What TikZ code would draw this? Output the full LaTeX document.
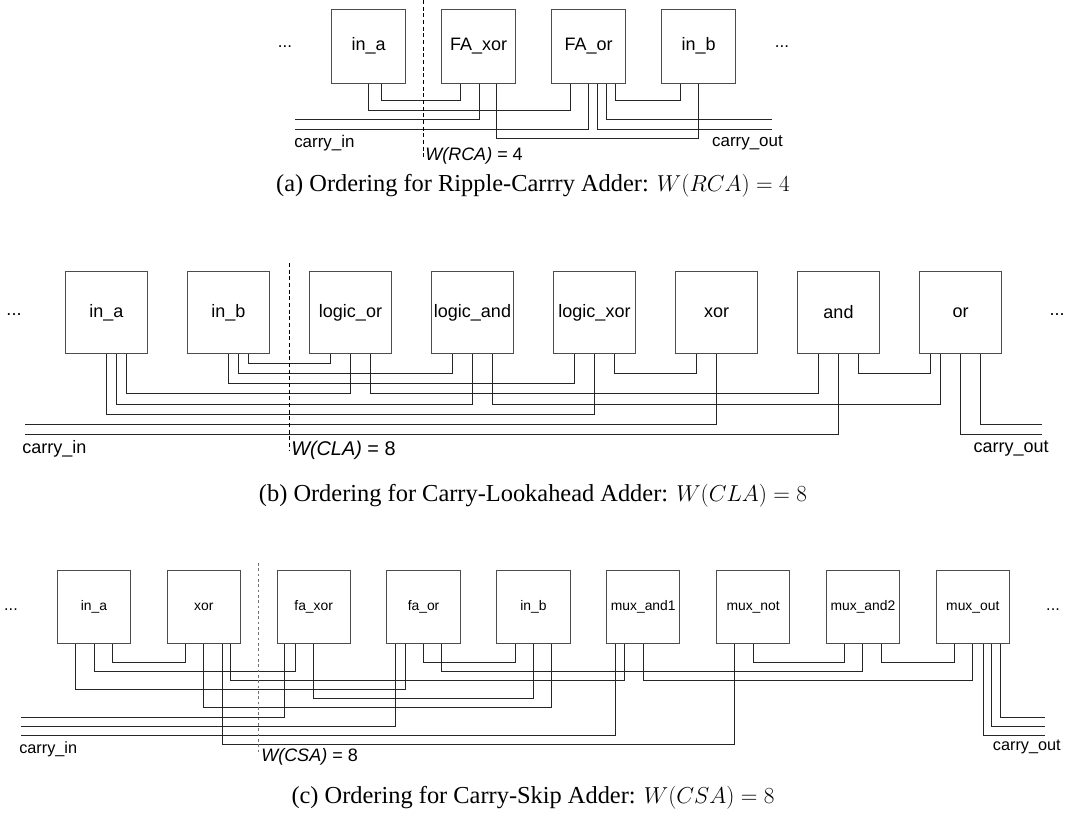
\documentclass[tikz,border=0pt]{standalone}
\usepackage{fontspec}
\setmainfont{Liberation Serif}
\newfontfamily\diafont{Liberation Sans}
\usetikzlibrary{calc}
\newcommand\pin[3]{\coordinate (#1) at ($(#2.south)+(#3,0)$);}
\newcommand\wireto[3]{\coordinate (lv) at (0,#3); \draw[wire] (#1) |- (#2 |- lv) -- (#2);}
\begin{document}
\begin{tikzpicture}[x=0.75pt,y=-0.75pt,
  wire/.style={draw=black!85, line width=0.75pt},
  gbox/.style={draw=black!70, line width=0.75pt, inner sep=0pt, align=center},
  boxa/.style={gbox, minimum size=55.5pt, font=\diafont\fontsize{13.5}{16}\selectfont},
  boxb/.style={gbox, minimum size=61.5pt, font=\diafont\fontsize{13.5}{16}\selectfont},
  boxc/.style={gbox, minimum size=55pt, font=\diafont\fontsize{10.4}{12}\selectfont},
  lbla/.style={inner sep=0pt, font=\diafont\fontsize{12.7}{15}\selectfont},
  lblb/.style={inner sep=0pt, font=\diafont\fontsize{13.5}{16}\selectfont},
  lblc/.style={inner sep=0pt, font=\diafont\fontsize{12.2}{14}\selectfont},
  wlbl/.style={inner sep=0pt, anchor=west, font=\diafont\fontsize{#1}{16}\selectfont},
  captext/.style={inner sep=0pt, font=\fontsize{18.3}{21}\selectfont},
  cutline/.style={draw=black, line width=0.75pt, dash pattern=on 3pt off 2pt},
  cutlinec/.style={draw=black!55, line width=1pt, dash pattern=on 2pt off 2pt}]
\useasboundingbox (0,0) rectangle (1065,817);

%%%%%%%%%%%%%%%% (a)
\node[boxa] (ina) at (368.7,46.2) {in\_a};
\node[boxa] (faxor) at (478.7,46.2) {FA\_xor};
\node[boxa] (faor) at (588.7,46.2) {FA\_or};
\node[boxa] (inb) at (698.7,46.2) {in\_b};
\node[lbla] (dotsal) at (285,47) {...};
\node[lbla] (dotsar) at (782,47) {...};
\pin{ina-1}{ina}{0} \pin{ina-2}{ina}{12.6}
\pin{faxor-1}{faxor}{-18} \pin{faxor-2}{faxor}{0.3} \pin{faxor-3}{faxor}{18}
\pin{faor-1}{faor}{-18.7} \pin{faor-2}{faor}{0} \pin{faor-3}{faor}{9} \pin{faor-4}{faor}{18} \pin{faor-5}{faor}{26.3}
\pin{inb-1}{inb}{-18.7} \pin{inb-2}{inb}{0}
\coordinate (cinA1) at (295,120); \coordinate (cinA2) at (295,129.3);
\coordinate (coutA1) at (771.7,120); \coordinate (coutA2) at (771.7,129.3);
\wireto{ina-2}{faxor-1}{101}
\wireto{ina-1}{faor-1}{111}
\draw[wire] (faxor-2) |- (cinA1);
\draw[wire] (faor-2) |- (cinA2);
\draw[wire] (faor-3) |- (coutA2);
\draw[wire] (faor-4) |- (coutA1);
\wireto{faor-5}{inb-1}{101}
\wireto{faxor-3}{inb-2}{138.3}
\coordinate (cutA1) at (423.3,0); \coordinate (cutA2) at (423.3,157);
\draw[cutline] (cutA1) -- (cutA2);
\node[lbla, anchor=west] (cinla) at (294,143) {carry\_in};
\node[lbla, anchor=east] (coutla) at (783,143) {carry\_out};
\node[wlbl=13.5] (wla) at (425,156) {\itshape W(RCA)\upshape{} = 4};
\node[captext] (capa) at (533,186) {(a) Ordering for Ripple-Carrry Adder: $W(RCA) = 4$};

%%%%%%%%%%%%%%%% (b)
\node[boxb] (bina) at (106.5,312.5) {in\_a};
\node[boxb] (binb) at (228.5,312.5) {in\_b};
\node[boxb] (blor) at (350.5,312.5) {logic\_or};
\node[boxb] (bland) at (472.5,312.5) {logic\_and};
\node[boxb] (blxor) at (594.5,312.5) {logic\_xor};
\node[boxb] (bxor) at (716.5,312.5) {xor};
\node[boxb] (band) at (838.5,312.5) {and};
\node[boxb] (bor) at (960.5,312.5) {or};
\node[lblb] (dotsbl) at (14,315) {...};
\node[lblb] (dotsbr) at (1057,315) {...};
\pin{bina-1}{bina}{0} \pin{bina-2}{bina}{10} \pin{bina-3}{bina}{20}
\pin{binb-1}{binb}{0} \pin{binb-2}{binb}{10} \pin{binb-3}{binb}{20}
\pin{blor-1}{blor}{-20} \pin{blor-2}{blor}{0} \pin{blor-3}{blor}{20}
\pin{bland-1}{bland}{-20} \pin{bland-2}{bland}{0} \pin{bland-3}{bland}{20}
\pin{blxor-1}{blxor}{-20} \pin{blxor-2}{blxor}{0} \pin{blxor-3}{blxor}{20}
\pin{bxor-1}{bxor}{-20} \pin{bxor-2}{bxor}{0}
\pin{band-1}{band}{-20} \pin{band-2}{band}{0} \pin{band-3}{band}{20}
\pin{bor-1}{bor}{-30} \pin{bor-2}{bor}{-20} \pin{bor-3}{bor}{0} \pin{bor-4}{bor}{20}
\wireto{binb-3}{blor-1}{363.3}
\wireto{binb-2}{bland-1}{373.5}
\wireto{binb-1}{blxor-1}{383.7}
\wireto{bina-3}{blor-2}{393.9}
\wireto{bina-2}{bland-2}{404.1}
\wireto{bina-1}{blxor-2}{414.3}
\wireto{blor-3}{band-1}{393.9}
\wireto{bland-3}{bor-2}{404.1}
\wireto{blxor-3}{bxor-1}{373.5}
\wireto{band-3}{bor-1}{373.5}
\coordinate (cinB1) at (25,424.5); \coordinate (cinB2) at (25,434.7);
\coordinate (coutB1) at (1041.7,424.5); \coordinate (coutB2) at (1041.7,434.7);
\draw[wire] (bxor-2) |- (cinB1);
\draw[wire] (band-2) |- (cinB2);
\draw[wire] (bor-4) |- (coutB1);
\draw[wire] (bor-3) |- (coutB2);
\coordinate (cutB1) at (289.3,263); \coordinate (cutB2) at (289.3,450);
\draw[cutline] (cutB1) -- (cutB2);
\node[lblb, anchor=west] (cinlb) at (22,449) {carry\_in};
\node[lblb, anchor=east] (coutlb) at (1049,449) {carry\_out};
\node[wlbl=14.9] (wlb) at (291,450) {\itshape W(CLA)\upshape{} = 8};
\node[captext] (capb) at (533,496) {(b) Ordering for Carry-Lookahead Adder: $W(CLA) = 8$};

%%%%%%%%%%%%%%%% (c)
\node[boxc] (cina) at (94,607) {in\_a};
\node[boxc] (cxor) at (203.85,607) {xor};
\node[boxc] (cfaxor) at (313.7,607) {fa\_xor};
\node[boxc] (cfaor) at (423.55,607) {fa\_or};
\node[boxc] (cinb) at (533.4,607) {in\_b};
\node[boxc] (cma1) at (643.25,607) {mux\_and1};
\node[boxc] (cmnot) at (753.1,607) {mux\_not};
\node[boxc] (cma2) at (862.95,607) {mux\_and2};
\node[boxc] (cmout) at (972.8,607) {mux\_out};
\node[lblc] (dotscl) at (11,610) {...};
\node[lblc] (dotscr) at (1053,610) {...};
\pin{cina-1}{cina}{-18.3} \pin{cina-2}{cina}{0} \pin{cina-3}{cina}{18.3}
\pin{cxor-1}{cxor}{-18.3} \pin{cxor-2}{cxor}{0} \pin{cxor-3}{cxor}{18.3} \pin{cxor-4}{cxor}{27}
\pin{cfaxor-1}{cfaxor}{-29.7} \pin{cfaxor-2}{cfaxor}{-18.5} \pin{cfaxor-3}{cfaxor}{0}
\pin{cfaor-1}{cfaor}{-27.6} \pin{cfaor-2}{cfaor}{-18.4} \pin{cfaor-3}{cfaor}{0} \pin{cfaor-4}{cfaor}{18.3}
\pin{cinb-1}{cinb}{-18.3} \pin{cinb-2}{cinb}{0} \pin{cinb-3}{cinb}{18.3}
\pin{cma1-1}{cma1}{-27.5} \pin{cma1-2}{cma1}{-18.5} \pin{cma1-3}{cma1}{0}
\pin{cmnot-1}{cmnot}{-18.4} \pin{cmnot-2}{cmnot}{0}
\pin{cma2-1}{cma2}{-18.4} \pin{cma2-2}{cma2}{0} \pin{cma2-3}{cma2}{18.3}
\pin{cmout-1}{cmout}{-18.4} \pin{cmout-2}{cmout}{0} \pin{cmout-3}{cmout}{10.6} \pin{cmout-4}{cmout}{19} \pin{cmout-5}{cmout}{27.8}
\wireto{cina-3}{cxor-1}{662.3}
\wireto{cina-2}{cfaxor-2}{671.4}
\wireto{cxor-4}{cma1-2}{680.5}
\wireto{cina-1}{cfaor-2}{689.6}
\wireto{cfaxor-3}{cinb-2}{698.7}
\wireto{cxor-2}{cinb-3}{707.9}
\wireto{cxor-3}{cmnot-1}{744.3}
\wireto{cfaor-3}{cinb-1}{662.3}
\wireto{cfaor-4}{cma2-2}{671.4}
\wireto{cma1-3}{cmout-2}{680.5}
\wireto{cmnot-2}{cma2-1}{662.3}
\wireto{cma2-3}{cmout-1}{662.3}
\coordinate (cinC1) at (20.7,717.0); \coordinate (cinC2) at (20.7,726.1); \coordinate (cinC3) at (20.7,735.2);
\coordinate (coutC1) at (1045,717.0); \coordinate (coutC2) at (1045,726.1); \coordinate (coutC3) at (1045,735.2);
\draw[wire] (cfaxor-1) |- (cinC1);
\draw[wire] (cfaor-1) |- (cinC2);
\draw[wire] (cma1-1) |- (cinC3);
\draw[wire] (cmout-5) |- (coutC1);
\draw[wire] (cmout-4) |- (coutC2);
\draw[wire] (cmout-3) |- (coutC3);
\coordinate (cutC1) at (258.5,563); \coordinate (cutC2) at (258.5,755);
\draw[cutlinec] (cutC1) -- (cutC2);
\node[lblc, anchor=west] (cinlc) at (19,749) {carry\_in};
\node[lblc, anchor=east] (coutlc) at (1061,747) {carry\_out};
\node[wlbl=13.5] (wlc) at (261,757) {\itshape W(CSA)\upshape{} = 8};
\node[captext] (capc) at (533,798) {(c) Ordering for Carry-Skip Adder: $W(CSA) = 8$};
\end{tikzpicture}
\end{document}
